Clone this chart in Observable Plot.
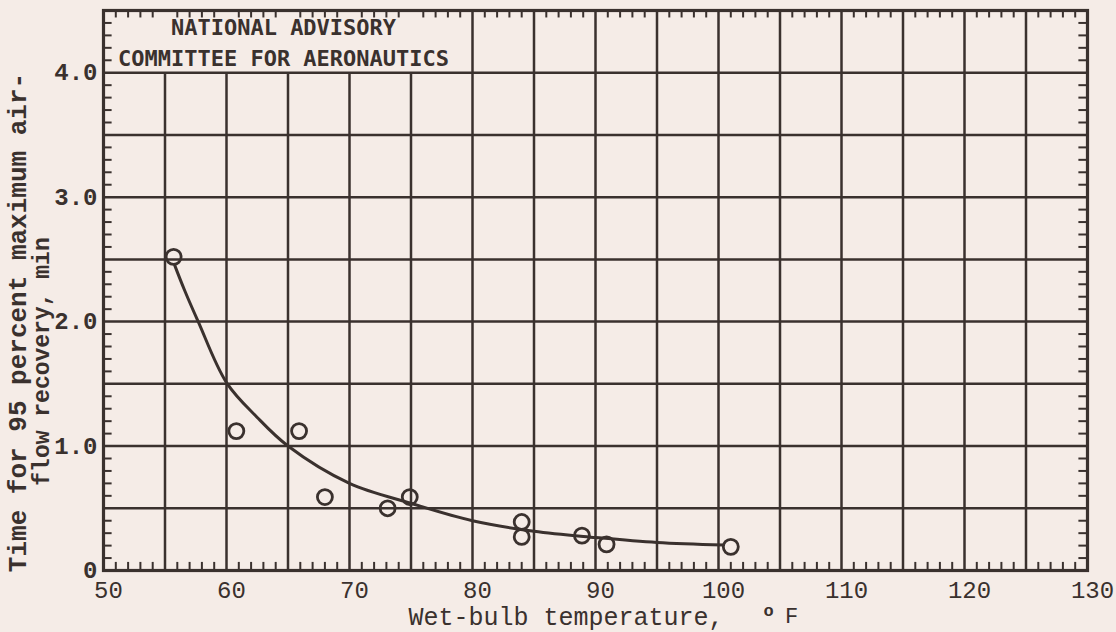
<!DOCTYPE html>
<html>
<head>
<meta charset="utf-8">
<script src="https://cdn.jsdelivr.net/npm/d3@7"></script>
<script src="https://cdn.jsdelivr.net/npm/@observablehq/plot@0.6"></script>
<style>
  html, body { margin: 0; padding: 0; background: #f5ece7; }
  #chart { width: 1116px; height: 632px; }
</style>
</head>
<body>
<div id="chart"></div>
<script>
// ---- data ----
const xTicks = [50, 60, 70, 80, 90, 100, 110, 120, 130];
const yTicks = [0, 1, 2, 3, 4];
const yTickLabels = ["0", "1.0", "2.0", "3.0", "4.0"];

// measured points: wet-bulb temperature (°F) vs time (min)
const wetBulb = [55.7, 60.8, 65.9, 68.0, 73.1, 74.9, 84.0, 84.0, 88.9, 90.9, 101.0];
const recoveryTime = [2.52, 1.12, 1.12, 0.59, 0.50, 0.59, 0.39, 0.27, 0.28, 0.21, 0.19];

// faired curve
const fairTemp = [55.8, 56.6, 57.7, 60, 62.5, 65, 70, 75, 80, 85, 90, 95, 100.4];
const fairTime = [2.45, 2.25, 2.0, 1.51, 1.23, 1.0, 0.70, 0.54, 0.40, 0.315, 0.265, 0.225, 0.205];

const noteLines = ["NATIONAL ADVISORY", "COMMITTEE FOR AERONAUTICS"];
const xLabel = "Wet-bulb temperature,";
const yLabel1 = "Time for 95 percent maximum air-";
const yLabel2 = "flow recovery, min";

// ---- derived tables ----
const xGrid = d3.range(55, 130, 5);
const yGrid = d3.range(0.5, 4.5, 0.5);
const xMinor = d3.range(51, 130).filter(v => v % 5 !== 0);
const yMinor = d3.range(1, 45).filter(v => v % 5 !== 0).map(v => v / 10);
const points = wetBulb.map((t, i) => ({t, m: recoveryTime[i]}));
const fair = fairTemp.map((t, i) => ({t, m: fairTime[i]}));

const ink = "#3a312e";
const mono = "'Liberation Mono', 'DejaVu Sans Mono', monospace";
const gothic = "'DejaVu Sans Mono', monospace";

const chart = Plot.plot({
  width: 1116,
  height: 632,
  marginLeft: 103,
  marginRight: 29,
  marginTop: 10,
  marginBottom: 62,
  x: {domain: [50, 130], axis: null},
  y: {domain: [0, 4.5], axis: null},
  style: {background: "transparent", color: ink, overflow: "visible"},
  marks: [
    // grid
    Plot.ruleX(xGrid, {x: d => d, y1: 0, y2: d => (d < 80 ? 4 : 4.5), stroke: ink, strokeWidth: 2.5}),
    Plot.ruleY(yGrid, {y: d => d, x1: 50, x2: 130, stroke: ink, strokeWidth: 2.5}),
    // minor ticks on the four edges
    Plot.ruleX(xMinor, {x: d => d, y1: 0, y2: 0.065, stroke: ink, strokeWidth: 2}),
    Plot.ruleX(xMinor, {x: d => d, y1: 4.44, y2: 4.5, stroke: ink, strokeWidth: 2}),
    Plot.ruleY(yMinor, {y: d => d, x1: 50, x2: 50.7, stroke: ink, strokeWidth: 2}),
    Plot.ruleY(yMinor, {y: d => d, x1: 129.3, x2: 130, stroke: ink, strokeWidth: 2}),
    Plot.frame({stroke: ink, strokeWidth: 3.2}),
    // faired curve and data
    Plot.line(fair, {x: "t", y: "m", curve: "catmull-rom", stroke: ink, strokeWidth: 3}),
    Plot.dot(points, {x: "t", y: "m", r: 7.5, stroke: ink, strokeWidth: 2.8, fill: "none"}),
    // tick labels
    Plot.text(xTicks, {x: d => d, y: 0, dy: 20, dx: 5, text: d => String(d),
      fontFamily: mono, fontSize: 24, fill: ink}),
    Plot.text(yTicks, {x: 50, y: d => d, dx: -6, text: (d, i) => yTickLabels[i],
      textAnchor: "end", fontFamily: mono, fontSize: 24, fontWeight: "bold", fill: ink}),
    // note box
    Plot.text([noteLines[0]], {frameAnchor: "top-left", textAnchor: "middle", lineAnchor: "middle", dx: 180, dy: 17,
      text: d => d, fontFamily: gothic, fontSize: 22, fontWeight: "bold", fill: ink}),
    Plot.text([noteLines[1]], {frameAnchor: "top-left", textAnchor: "middle", lineAnchor: "middle", dx: 180, dy: 48,
      text: d => d, fontFamily: gothic, fontSize: 22, fontWeight: "bold", fill: ink}),
    // axis titles
    Plot.text([xLabel], {frameAnchor: "bottom", dx: -187, dy: 54, textAnchor: "start", text: d => d,
      fontFamily: mono, fontSize: 25, fill: ink}),
    Plot.text(["o"], {frameAnchor: "bottom", dx: 173, dy: 45, text: d => d,
      fontFamily: mono, fontSize: 17, fontWeight: "bold", fill: ink}),
    Plot.text(["F"], {frameAnchor: "bottom", dx: 196, dy: 52, text: d => d,
      fontFamily: mono, fontSize: 22, fill: ink}),
    Plot.text([yLabel1], {frameAnchor: "left", textAnchor: "middle", rotate: -90, dx: -86, dy: 32, text: d => d,
      fontFamily: mono, fontSize: 26, fontWeight: "bold", fill: ink}),
    Plot.text([yLabel2], {frameAnchor: "left", textAnchor: "middle", rotate: -90, dx: -62, dy: 71, text: d => d,
      fontFamily: mono, fontSize: 23, fontWeight: "bold", fill: ink})
  ]
});
document.getElementById("chart").appendChild(chart);
</script>
</body>
</html>
